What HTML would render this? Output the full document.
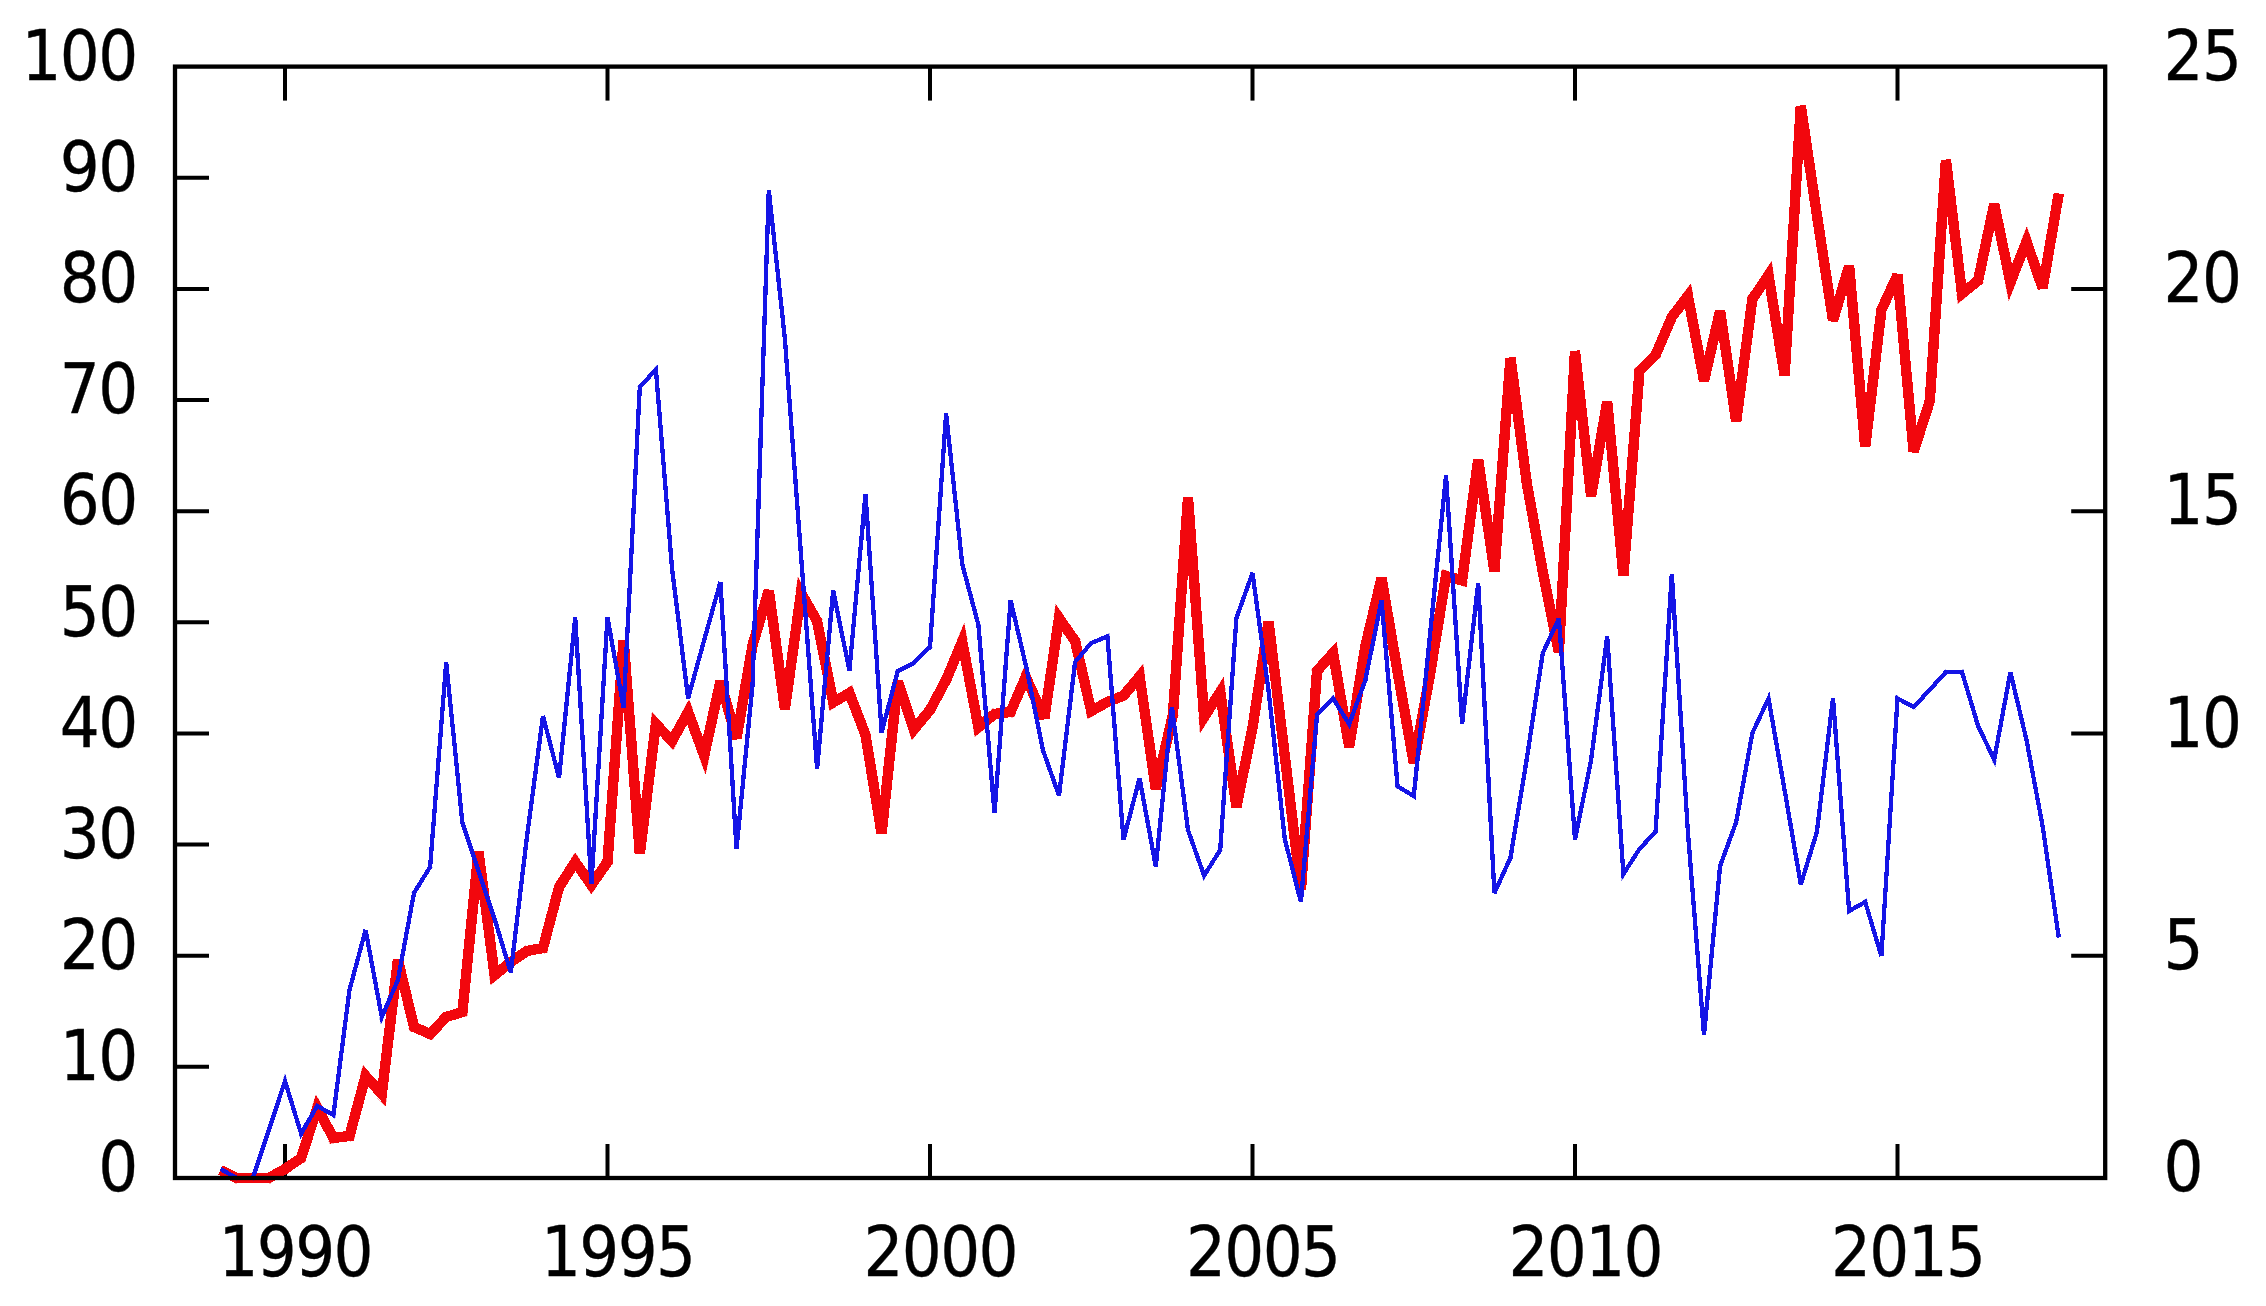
<!DOCTYPE html>
<html lang="en"><head><meta charset="utf-8"><title>Chart</title>
<style>html,body{margin:0;padding:0;background:#fff}body{width:2266px;height:1306px;overflow:hidden}svg{display:block}text{font-family:'DejaVu Sans','Liberation Sans',sans-serif;font-size:68.7px;fill:#000;stroke:#000;stroke-width:0.35px;stroke-linejoin:round}</style></head><body>
<svg width="2266" height="1306" viewBox="0 0 2266 1306">
<rect width="2266" height="1306" fill="#fff"/>
<g stroke="#000" stroke-width="4" fill="none" stroke-linecap="butt">
<line x1="175.0" y1="1066.86" x2="209.0" y2="1066.86"/>
<line x1="175.0" y1="955.72" x2="209.0" y2="955.72"/>
<line x1="175.0" y1="844.58" x2="209.0" y2="844.58"/>
<line x1="175.0" y1="733.44" x2="209.0" y2="733.44"/>
<line x1="175.0" y1="622.30" x2="209.0" y2="622.30"/>
<line x1="175.0" y1="511.16" x2="209.0" y2="511.16"/>
<line x1="175.0" y1="400.02" x2="209.0" y2="400.02"/>
<line x1="175.0" y1="288.88" x2="209.0" y2="288.88"/>
<line x1="175.0" y1="177.74" x2="209.0" y2="177.74"/>
<line x1="2071.2" y1="955.72" x2="2105.2" y2="955.72"/>
<line x1="2071.2" y1="733.44" x2="2105.2" y2="733.44"/>
<line x1="2071.2" y1="511.16" x2="2105.2" y2="511.16"/>
<line x1="2071.2" y1="288.88" x2="2105.2" y2="288.88"/>
<line x1="285.00" y1="66.6" x2="285.00" y2="100.6"/>
<line x1="285.00" y1="1144.0" x2="285.00" y2="1178.0"/>
<line x1="607.50" y1="66.6" x2="607.50" y2="100.6"/>
<line x1="607.50" y1="1144.0" x2="607.50" y2="1178.0"/>
<line x1="930.00" y1="66.6" x2="930.00" y2="100.6"/>
<line x1="930.00" y1="1144.0" x2="930.00" y2="1178.0"/>
<line x1="1252.50" y1="66.6" x2="1252.50" y2="100.6"/>
<line x1="1252.50" y1="1144.0" x2="1252.50" y2="1178.0"/>
<line x1="1575.00" y1="66.6" x2="1575.00" y2="100.6"/>
<line x1="1575.00" y1="1144.0" x2="1575.00" y2="1178.0"/>
<line x1="1897.50" y1="66.6" x2="1897.50" y2="100.6"/>
<line x1="1897.50" y1="1144.0" x2="1897.50" y2="1178.0"/>
</g>
<polyline shape-rendering="crispEdges" fill="none" stroke="#f2070d" stroke-width="10.4" stroke-linejoin="bevel" stroke-linecap="butt" points="220.5,1170.0 236.6,1178.0 252.8,1178.0 268.9,1178.0 285.0,1169.0 301.1,1158.0 317.2,1108.0 333.4,1138.0 349.5,1136.0 365.6,1076.0 381.8,1094.0 397.9,960.0 414.0,1027.0 430.1,1034.0 446.2,1017.0 462.4,1012.0 478.5,852.0 494.6,975.0 510.8,962.0 526.9,951.0 543.0,948.0 559.1,887.0 575.2,862.0 591.4,885.0 607.5,862.0 623.6,640.0 639.8,853.6 655.9,724.0 672.0,741.0 688.1,712.0 704.2,755.6 720.4,681.4 736.5,738.4 752.6,645.0 768.8,590.6 784.9,709.0 801.0,593.0 817.1,621.0 833.2,702.4 849.4,693.0 865.5,735.0 881.6,833.6 897.8,681.4 913.9,729.4 930.0,710.0 946.1,680.0 962.2,641.4 978.4,727.2 994.5,714.0 1010.6,712.0 1025.7,677.0 1044.4,718.0 1059.0,618.0 1075.1,641.0 1091.2,711.0 1107.4,702.0 1123.5,695.6 1139.6,676.4 1155.8,788.8 1172.9,715.0 1188.0,497.6 1204.1,717.0 1220.2,692.0 1236.4,806.8 1252.5,728.0 1268.6,622.0 1284.8,756.0 1300.9,890.0 1317.0,671.0 1333.1,653.0 1349.2,746.8 1365.4,646.0 1381.5,578.2 1397.6,672.0 1413.8,762.8 1429.9,675.0 1446.0,576.0 1462.1,580.4 1478.2,459.6 1494.4,571.2 1510.5,358.0 1526.6,482.0 1542.8,572.0 1558.9,652.0 1575.0,351.0 1591.1,496.2 1607.2,401.6 1623.4,575.6 1639.5,371.0 1655.6,355.0 1671.8,317.0 1687.9,296.0 1704.0,380.6 1720.1,311.0 1736.2,421.6 1752.4,299.0 1768.5,275.2 1784.6,375.5 1800.8,106.0 1816.9,215.0 1833.0,320.5 1849.1,266.0 1865.2,446.8 1881.4,310.0 1897.5,275.0 1913.6,451.6 1929.8,401.0 1945.9,160.0 1962.0,293.6 1978.1,280.6 1994.2,204.0 2010.4,282.4 2026.5,241.6 2042.6,288.0 2058.8,193.4"/>
<path shape-rendering="crispEdges" fill="#f2070d" stroke="#f2070d" stroke-width="0.3" d="M234.3,1182.7L235.4,1183.2L236.6,1183.2L236.6,1178.0ZM268.9,1183.2L270.2,1183.2L271.4,1182.5L268.9,1178.0ZM287.5,1173.5L287.7,1173.4L287.9,1173.3L285.0,1169.0ZM304.1,1162.3L305.5,1161.3L306.1,1159.6L301.1,1158.0ZM312.3,1106.4L316.0,1094.8L321.8,1105.5L317.2,1108.0ZM328.8,1140.5L330.5,1143.6L334.0,1143.2L333.4,1138.0ZM350.1,1141.2L353.6,1140.7L354.5,1137.3L349.5,1136.0ZM360.6,1074.7L363.1,1065.4L369.5,1072.5L365.6,1076.0ZM377.9,1097.5L385.5,1106.0L386.9,1094.6L381.8,1094.0ZM408.9,1028.2L409.6,1030.7L411.9,1031.8L414.0,1027.0ZM428.1,1038.8L431.4,1040.2L433.9,1037.6L430.1,1034.0ZM442.5,1013.4L443.4,1012.4L444.7,1012.0L446.2,1017.0ZM463.9,1017.0L467.2,1015.9L467.5,1012.5L462.4,1012.0ZM489.5,975.7L490.7,984.9L497.9,979.0L494.6,975.0ZM507.5,958.0L507.6,957.8L507.8,957.7L510.8,962.0ZM523.9,946.7L524.8,946.1L525.9,945.9L526.9,951.0ZM544.0,953.1L547.2,952.5L548.0,949.3L543.0,948.0ZM554.1,885.7L554.3,884.9L554.8,884.2L559.1,887.0ZM570.9,859.2L575.1,852.7L579.5,859.0L575.2,862.0ZM587.1,888.0L591.4,894.1L595.6,888.0L591.4,885.0ZM611.8,865.0L612.6,863.8L612.7,862.4L607.5,862.0ZM650.7,723.4L652.1,712.4L659.6,720.4L655.9,724.0ZM668.2,744.6L673.1,749.7L676.5,743.5L672.0,741.0ZM683.6,709.5L689.1,699.6L693.0,710.2L688.1,712.0ZM699.4,757.4L705.5,774.1L709.3,756.7L704.2,755.6ZM747.5,644.1L747.6,643.8L747.6,643.5L752.6,645.0ZM795.8,592.3L797.9,577.3L805.5,590.4L801.0,593.0ZM821.6,618.4L822.1,619.1L822.2,620.0L817.1,621.0ZM828.1,703.4L829.6,710.6L835.9,706.9L833.2,702.4ZM846.8,688.5L852.0,685.4L854.2,691.1L849.4,693.0ZM870.4,733.1L870.5,733.6L870.6,734.2L865.5,735.0ZM908.9,731.1L911.9,739.9L917.9,732.7L913.9,729.4ZM934.0,713.3L934.3,712.9L934.6,712.5L930.0,710.0ZM950.7,682.5L950.8,682.2L950.9,682.0L946.1,680.0ZM957.5,639.4L964.2,623.4L967.4,640.4L962.2,641.4ZM973.3,728.2L974.9,736.8L981.7,731.2L978.4,727.2ZM991.2,710.0L992.4,709.0L993.9,708.8L994.5,714.0ZM1011.3,717.2L1014.2,716.8L1015.4,714.1L1010.6,712.0ZM1020.9,674.9L1025.5,664.2L1030.4,674.8L1025.7,677.0ZM1053.9,617.2L1055.7,604.3L1063.3,615.0L1059.0,618.0ZM1079.4,638.0L1080.0,638.8L1080.2,639.8L1075.1,641.0ZM1086.2,712.2L1087.7,718.9L1093.8,715.5L1091.2,711.0ZM1104.8,697.5L1105.1,697.3L1105.5,697.2L1107.4,702.0ZM1125.4,700.4L1126.6,699.9L1127.5,698.9L1123.5,695.6ZM1135.6,673.1L1143.1,664.2L1144.8,675.7L1139.6,676.4ZM1177.9,716.2L1178.0,715.8L1178.1,715.4L1172.9,715.0ZM1198.9,717.4L1200.1,732.9L1208.5,719.8L1204.1,717.0ZM1215.9,689.2L1223.5,677.4L1225.4,691.3L1220.2,692.0ZM1257.6,729.0L1257.6,728.9L1257.6,728.8L1252.5,728.0ZM1311.8,670.6L1311.9,668.9L1313.1,667.5L1317.0,671.0ZM1329.3,649.5L1336.4,641.5L1338.2,652.1L1333.1,653.0ZM1360.2,645.2L1360.3,645.0L1360.3,644.8L1365.4,646.0ZM1392.5,672.9L1392.5,672.9L1392.5,672.9L1397.6,672.0ZM1435.0,675.9L1435.0,675.9L1435.0,675.8L1429.9,675.0ZM1440.9,575.2L1441.8,569.5L1447.4,571.0L1446.0,576.0ZM1460.8,585.4L1466.5,587.0L1467.3,581.1L1462.1,580.4ZM1521.5,482.7L1521.5,482.8L1521.5,482.9L1526.6,482.0ZM1537.6,572.9L1537.6,573.0L1537.7,573.0L1542.8,572.0ZM1634.3,370.6L1634.5,368.7L1635.8,367.3L1639.5,371.0ZM1659.3,358.7L1660.0,358.0L1660.4,357.0L1655.6,355.0ZM1667.0,315.0L1667.2,314.4L1667.6,313.8L1671.8,317.0ZM1683.8,292.8L1690.8,283.6L1693.0,295.0L1687.9,296.0ZM1747.2,298.3L1747.4,297.1L1748.1,296.1L1752.4,299.0ZM1764.2,272.3L1771.6,261.4L1773.6,274.4L1768.5,275.2ZM1811.7,215.8L1811.7,215.8L1811.7,215.8L1816.9,215.0ZM1876.2,309.4L1876.3,308.6L1876.7,307.8L1881.4,310.0ZM1934.7,402.6L1934.9,402.0L1934.9,401.3L1929.8,401.0ZM1956.8,294.2L1958.0,303.5L1965.3,297.6L1962.0,293.6ZM1981.4,284.6L1982.8,283.5L1983.2,281.7L1978.1,280.6ZM2005.3,283.4L2008.8,300.5L2015.2,284.3L2010.4,282.4ZM2021.7,239.7L2026.8,226.7L2031.4,239.9L2026.5,241.6Z"/>
<polyline shape-rendering="crispEdges" fill="none" stroke="#1515e6" stroke-width="4.3" stroke-linejoin="bevel" stroke-linecap="butt" points="220.5,1169.0 236.6,1178.0 252.8,1178.0 268.9,1130.0 285.0,1081.0 301.1,1133.6 317.2,1106.0 333.4,1115.0 349.5,990.0 365.6,930.0 381.8,1017.0 397.9,980.0 414.0,893.0 430.1,867.0 446.2,662.5 462.4,823.0 478.5,871.0 494.6,919.0 510.8,972.5 526.9,837.0 543.0,716.0 559.1,778.0 575.2,617.5 591.4,884.0 607.5,617.5 623.6,707.6 639.8,387.0 655.9,369.6 672.0,568.0 688.1,698.4 704.2,640.0 720.4,582.0 736.5,849.0 752.6,684.0 768.8,190.2 784.9,339.0 801.0,555.0 817.1,768.6 833.2,590.6 849.4,670.6 865.5,494.0 881.6,732.4 897.8,671.0 913.9,663.0 930.0,647.0 946.1,413.6 962.2,564.0 978.4,625.0 994.5,813.0 1010.6,600.4 1026.8,669.4 1042.9,750.0 1059.0,795.6 1075.1,662.0 1091.2,643.0 1107.4,636.4 1123.5,839.6 1139.6,778.2 1155.8,866.8 1171.9,707.0 1188.0,830.0 1204.1,875.6 1220.2,850.0 1236.4,618.0 1252.5,573.0 1268.6,691.0 1284.8,839.0 1300.9,902.0 1317.0,715.0 1333.1,698.4 1349.2,724.2 1365.4,680.0 1381.5,600.0 1397.6,786.4 1413.8,796.0 1429.9,636.0 1446.0,475.6 1462.1,724.2 1478.2,583.0 1494.4,893.0 1510.5,857.6 1526.6,760.0 1542.8,653.0 1558.9,618.4 1575.0,839.6 1591.1,760.0 1607.2,636.2 1623.4,874.0 1639.5,849.0 1655.6,831.6 1671.8,574.2 1687.9,832.0 1704.0,1035.0 1720.1,866.0 1736.2,822.0 1752.4,733.0 1768.5,698.6 1784.6,790.0 1800.8,884.4 1816.9,832.0 1833.0,698.2 1849.1,911.0 1865.2,902.0 1881.4,956.0 1897.5,698.4 1913.6,707.0 1929.8,689.8 1945.9,672.0 1962.0,672.0 1978.1,726.0 1994.2,759.6 2010.4,672.2 2026.5,740.0 2042.6,826.0 2058.8,937.6"/>
<path shape-rendering="crispEdges" fill="#1515e6" stroke="#1515e6" stroke-width="0.3" d="M235.6,1179.9L236.1,1180.2L236.6,1180.2L236.6,1178.0ZM252.8,1180.2L254.3,1180.2L254.8,1178.7L252.8,1178.0ZM270.9,1130.7L270.9,1130.7L270.9,1130.7L268.9,1130.0ZM283.0,1080.3L285.1,1073.9L287.1,1080.4L285.0,1081.0ZM299.1,1134.2L300.5,1138.9L303.0,1134.7L301.1,1133.6ZM315.4,1104.9L316.5,1103.1L318.3,1104.1L317.2,1106.0ZM332.3,1116.9L335.1,1118.4L335.5,1115.3L333.4,1115.0ZM347.4,989.7L347.4,989.6L347.4,989.4L349.5,990.0ZM379.6,1017.4L380.9,1024.3L383.7,1017.9L381.8,1017.0ZM399.8,980.9L399.9,980.6L400.0,980.4L397.9,980.0ZM411.9,892.6L412.0,892.2L412.2,891.9L414.0,893.0ZM432.0,868.1L432.2,867.7L432.3,867.2L430.1,867.0ZM460.2,823.2L460.3,823.5L460.3,823.7L462.4,823.0ZM496.7,918.3L496.7,918.3L496.7,918.4L494.6,919.0ZM524.7,836.7L524.7,836.7L524.7,836.7L526.9,837.0ZM637.6,386.9L637.6,386.1L638.2,385.5L639.8,387.0ZM654.3,368.1L657.6,364.6L658.0,369.4L655.9,369.6ZM669.9,568.2L669.9,568.2L669.9,568.3L672.0,568.0ZM702.2,639.4L702.2,639.4L702.2,639.4L704.2,640.0ZM754.8,684.2L754.8,684.1L754.8,684.1L752.6,684.0ZM787.0,338.8L787.0,338.8L787.0,338.8L784.9,339.0ZM798.9,555.2L798.9,555.2L798.9,555.2L801.0,555.0ZM895.7,670.5L895.9,669.5L896.8,669.1L897.8,671.0ZM914.8,664.9L915.1,664.8L915.4,664.5L913.9,663.0ZM931.5,648.5L932.1,648.0L932.1,647.1L930.0,647.0ZM960.1,564.2L960.1,564.4L960.2,564.5L962.2,564.0ZM980.5,624.5L980.5,624.6L980.5,624.8L978.4,625.0ZM1028.8,668.9L1028.9,668.9L1028.9,669.0L1026.8,669.4ZM1040.8,750.4L1040.8,750.6L1040.8,750.7L1042.9,750.0ZM1073.0,661.7L1073.1,661.1L1073.5,660.6L1075.1,662.0ZM1089.6,641.6L1090.0,641.2L1090.4,641.0L1091.2,643.0ZM1106.6,634.4L1109.3,633.3L1109.5,636.2L1107.4,636.4ZM1185.9,830.3L1185.9,830.5L1186.0,830.7L1188.0,830.0ZM1202.1,876.3L1203.6,880.5L1205.9,876.7L1204.1,875.6ZM1222.1,851.1L1222.4,850.7L1222.4,850.1L1220.2,850.0ZM1234.2,617.9L1234.3,617.6L1234.4,617.3L1236.4,618.0ZM1270.8,690.7L1270.8,690.7L1270.8,690.8L1268.6,691.0ZM1282.6,839.2L1282.6,839.4L1282.7,839.5L1284.8,839.0ZM1314.9,714.8L1314.9,714.1L1315.5,713.5L1317.0,715.0ZM1331.6,696.9L1333.5,694.9L1334.9,697.3L1333.1,698.4ZM1347.4,725.3L1349.8,729.1L1351.3,724.9L1349.2,724.2ZM1367.4,680.7L1367.5,680.6L1367.5,680.4L1365.4,680.0ZM1395.5,786.6L1395.6,787.7L1396.5,788.2L1397.6,786.4ZM1412.7,797.8L1415.6,799.6L1415.9,796.2L1413.8,796.0ZM1432.0,636.2L1432.0,636.2L1432.0,636.2L1429.9,636.0ZM1512.5,858.5L1512.6,858.2L1512.6,858.0L1510.5,857.6ZM1528.7,760.4L1528.7,760.3L1528.8,760.3L1526.6,760.0ZM1540.6,652.7L1540.7,652.4L1540.8,652.1L1542.8,653.0ZM1593.2,760.4L1593.2,760.4L1593.3,760.3L1591.1,760.0ZM1621.2,874.1L1621.7,880.6L1625.2,875.2L1623.4,874.0ZM1637.7,847.8L1637.8,847.7L1637.9,847.5L1639.5,849.0ZM1657.2,833.1L1657.7,832.5L1657.8,831.7L1655.6,831.6ZM1685.7,832.1L1685.7,832.2L1685.7,832.2L1687.9,832.0ZM1718.0,865.8L1718.0,865.5L1718.1,865.3L1720.1,866.0ZM1738.3,822.7L1738.3,822.6L1738.4,822.4L1736.2,822.0ZM1750.3,732.6L1750.3,732.3L1750.4,732.1L1752.4,733.0ZM1766.6,697.7L1769.4,691.5L1770.6,698.2L1768.5,698.6ZM1786.7,789.6L1786.7,789.6L1786.7,789.6L1784.6,790.0ZM1818.9,832.6L1819.0,832.4L1819.0,832.3L1816.9,832.0ZM1847.0,911.2L1847.2,914.5L1850.2,912.9L1849.1,911.0ZM1864.2,900.1L1866.5,898.8L1867.3,901.4L1865.2,902.0ZM1895.4,698.3L1895.6,694.9L1898.5,696.5L1897.5,698.4ZM1912.6,708.9L1914.1,709.7L1915.2,708.5L1913.6,707.0ZM1931.3,691.3L1931.3,691.3L1931.3,691.2L1929.8,689.8ZM1944.3,670.6L1944.9,669.9L1945.9,669.9L1945.9,672.0ZM1962.0,669.9L1963.6,669.9L1964.1,671.4L1962.0,672.0ZM1976.1,726.6L1976.1,726.8L1976.2,726.9L1978.1,726.0ZM1992.3,760.5L1995.2,766.5L1996.4,760.0L1994.2,759.6ZM2028.6,739.5L2028.6,739.6L2028.6,739.6L2026.5,740.0ZM2044.7,825.6L2044.7,825.6L2044.8,825.7L2042.6,826.0Z"/>
<rect x="175.0" y="66.6" width="1930.1999999999998" height="1111.4" fill="none" stroke="#000" stroke-width="4.3"/>
<text transform="translate(0,1191.2) scale(0.915,1)" x="107.33" y="0">0</text>
<text transform="translate(0,1080.1) scale(0.915,1)" x="65.36 107.33" y="0">10</text>
<text transform="translate(0,968.9) scale(0.915,1)" x="65.36 107.33" y="0">20</text>
<text transform="translate(0,857.8) scale(0.915,1)" x="65.36 107.33" y="0">30</text>
<text transform="translate(0,746.6) scale(0.915,1)" x="65.36 107.33" y="0">40</text>
<text transform="translate(0,635.5) scale(0.915,1)" x="65.36 107.33" y="0">50</text>
<text transform="translate(0,524.4) scale(0.915,1)" x="65.36 107.33" y="0">60</text>
<text transform="translate(0,413.2) scale(0.915,1)" x="65.36 107.33" y="0">70</text>
<text transform="translate(0,302.1) scale(0.915,1)" x="65.36 107.33" y="0">80</text>
<text transform="translate(0,190.9) scale(0.915,1)" x="65.36 107.33" y="0">90</text>
<text transform="translate(0,79.8) scale(0.915,1)" x="23.39 65.36 107.33" y="0">100</text>
<text transform="translate(0,1191.2) scale(0.915,1)" x="2364.48" y="0">0</text>
<text transform="translate(0,968.9) scale(0.915,1)" x="2364.48" y="0">5</text>
<text transform="translate(0,746.6) scale(0.915,1)" x="2364.48 2406.45" y="0">10</text>
<text transform="translate(0,524.4) scale(0.915,1)" x="2364.48 2406.45" y="0">15</text>
<text transform="translate(0,302.1) scale(0.915,1)" x="2364.48 2406.45" y="0">20</text>
<text transform="translate(0,79.8) scale(0.915,1)" x="2364.48 2406.45" y="0">25</text>
<text transform="translate(0,1275.5) scale(0.915,1)" x="238.69 280.66 322.63 364.59" y="0">1990</text>
<text transform="translate(0,1275.5) scale(0.915,1)" x="591.15 633.12 675.09 717.05" y="0">1995</text>
<text transform="translate(0,1275.5) scale(0.915,1)" x="943.61 985.58 1027.54 1069.51" y="0">2000</text>
<text transform="translate(0,1275.5) scale(0.915,1)" x="1296.07 1338.04 1380.00 1421.97" y="0">2005</text>
<text transform="translate(0,1275.5) scale(0.915,1)" x="1648.53 1690.50 1732.46 1774.43" y="0">2010</text>
<text transform="translate(0,1275.5) scale(0.915,1)" x="2000.99 2042.95 2084.92 2126.89" y="0">2015</text>
</svg></body></html>
